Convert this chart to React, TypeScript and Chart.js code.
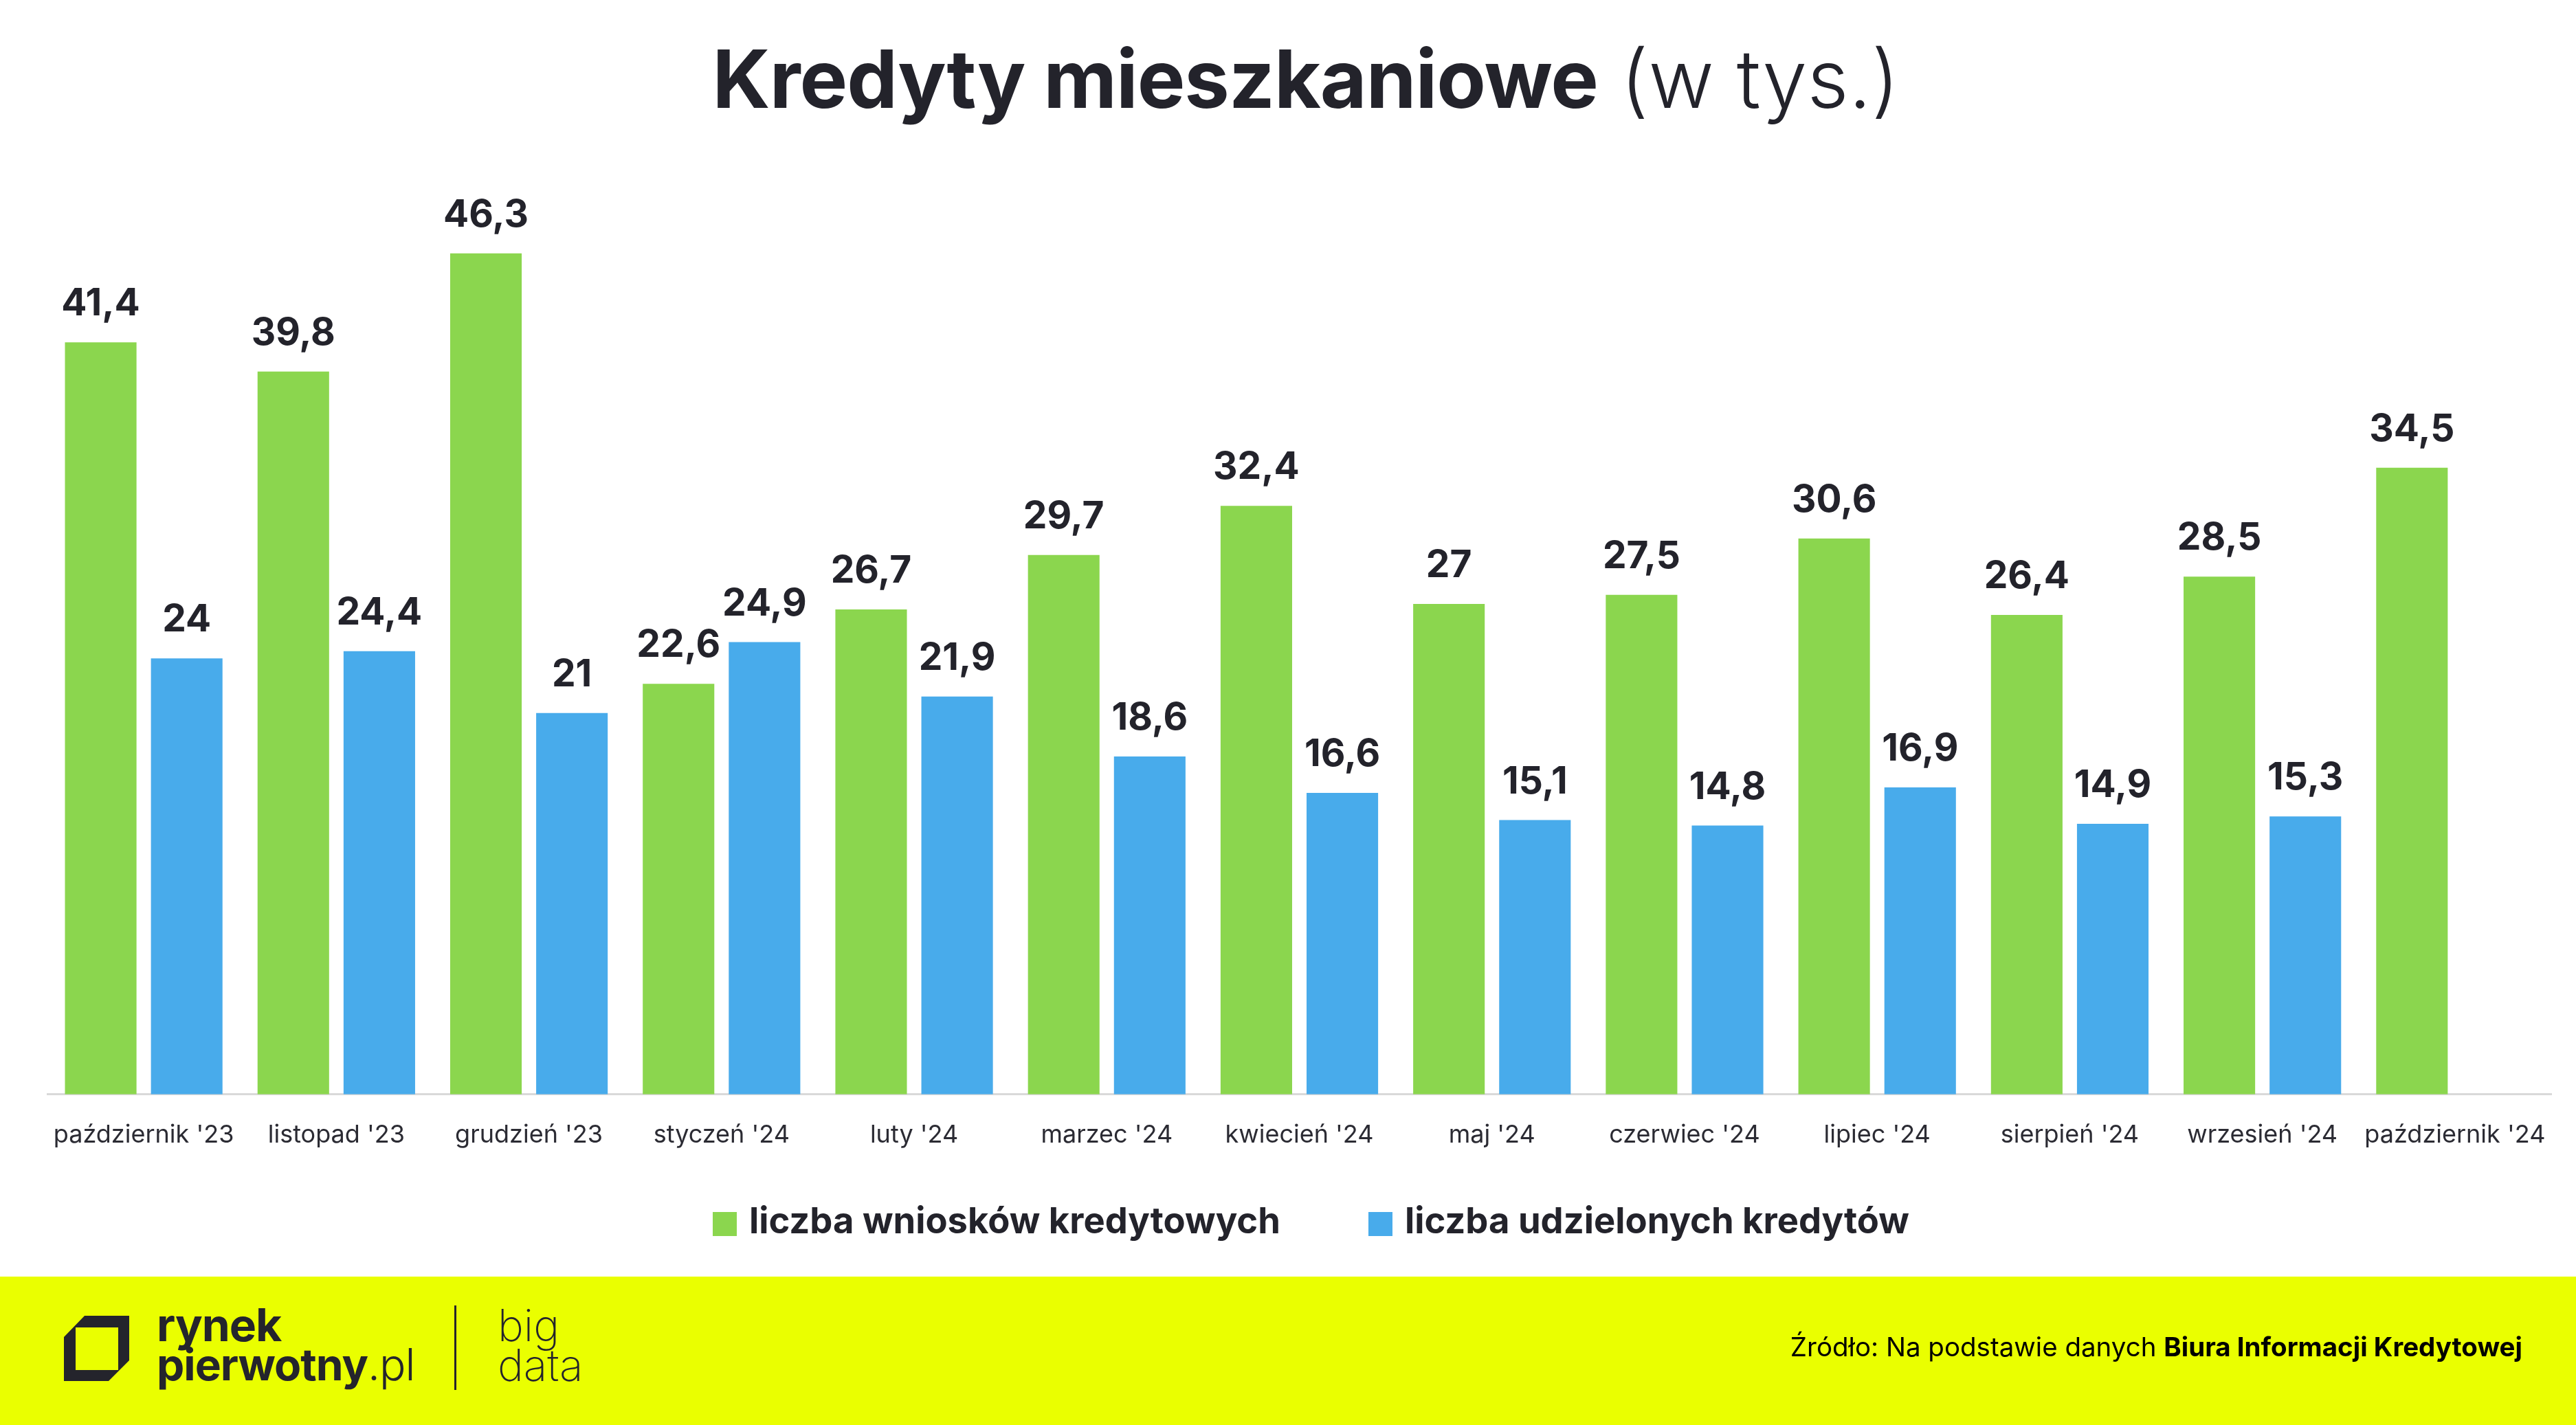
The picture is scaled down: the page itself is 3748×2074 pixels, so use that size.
import React, { useEffect, useRef } from "react";
import { Chart, registerables } from "chart.js";

Chart.register(...registerables);

const categories = [
  "październik '23",
  "listopad '23",
  "grudzień '23",
  "styczeń '24",
  "luty '24",
  "marzec '24",
  "kwiecień '24",
  "maj '24",
  "czerwiec '24",
  "lipiec '24",
  "sierpień '24",
  "wrzesień '24",
  "październik '24",
];
const wnioski = [41.4, 39.8, 46.3, 22.6, 26.7, 29.7, 32.4, 27, 27.5, 30.6, 26.4, 28.5, 34.5];
const udzielone = [24, 24.4, 21, 24.9, 21.9, 18.6, 16.6, 15.1, 14.8, 16.9, 14.9, 15.3, null];
const seriesNames = ["liczba wniosków kredytowych", "liczba udzielonych kredytów"];
const seriesColors = ["#8bd64e", "#48abeb"];
const yMin = 0;
const yMax = 50;

const FONT = "Inter, 'Open Sans', Roboto, sans-serif";
const DARK = "#23232b";

const fmt = (v: number) => v.toLocaleString("pl-PL", { maximumFractionDigits: 1 });

const valueLabels = {
  id: "valueLabels",
  afterDatasetsDraw(chart: any) {
    const ctx = chart.ctx;
    ctx.save();
    ctx.font = `700 55px ${FONT}`;
    ctx.fillStyle = DARK;
    ctx.textAlign = "center";
    ctx.textBaseline = "alphabetic";
    chart.data.datasets.forEach((ds: any, di: number) => {
      const meta = chart.getDatasetMeta(di);
      meta.data.forEach((bar: any, i: number) => {
        const v = ds.data[i];
        if (v === null || v === undefined) return;
        ctx.fillText(fmt(v), bar.x, bar.y - 39);
      });
    });
    ctx.restore();
  },
};

function Txt(props: {
  x?: number;
  right?: number;
  baseline: number;
  size: number;
  weight?: number;
  color?: string;
  children: any;
  spacing?: number;
}) {
  const { x, right, baseline, size, weight = 400, color = DARK, children, spacing = 0 } = props;
  const style: any = {
    position: "absolute",
    top: baseline - 0.864 * size,
    fontFamily: FONT,
    fontSize: size,
    lineHeight: `${size}px`,
    fontWeight: weight,
    color,
    whiteSpace: "nowrap",
    letterSpacing: spacing,
  };
  if (x !== undefined) style.left = x;
  if (right !== undefined) style.right = right;
  return <div style={style}>{children}</div>;
}

export default function App() {
  const canvasRef = useRef<HTMLCanvasElement | null>(null);

  useEffect(() => {
    const canvas = canvasRef.current;
    if (!canvas) return;
    const chart = new Chart(canvas, {
      type: "bar",
      data: {
        labels: categories,
        datasets: [
          {
            label: seriesNames[0],
            data: wnioski,
            backgroundColor: seriesColors[0],
            borderWidth: 0,
            categoryPercentage: 0.893,
            barPercentage: 0.832,
          },
          {
            label: seriesNames[1],
            data: udzielone,
            backgroundColor: seriesColors[1],
            borderWidth: 0,
            categoryPercentage: 0.893,
            barPercentage: 0.832,
          },
        ],
      },
      options: {
        animation: false,
        responsive: false,
        devicePixelRatio: 1,
        layout: { padding: { left: 69, right: 36, top: 271, bottom: 8 } },
        plugins: {
          legend: { display: false },
          title: { display: false },
          tooltip: { enabled: false },
        },
        scales: {
          x: {
            grid: { display: false, drawTicks: false },
            border: { display: true, color: "#d9d9d9", width: 3 },
            ticks: {
              color: "#2b2b33",
              font: { family: FONT, size: 36, weight: 400 },
              padding: 38,
              maxRotation: 0,
              autoSkip: false,
            },
          },
          y: {
            display: false,
            min: yMin,
            max: yMax,
          },
        },
      },
      plugins: [valueLabels],
    });
    return () => chart.destroy();
  }, []);

  return (
    <div
      style={{
        position: "fixed",
        left: 0,
        top: 0,
        width: 3748,
        height: 2074,
        overflow: "hidden",
        background: "#ffffff",
      }}
    >
      <canvas
        ref={canvasRef}
        width={3748}
        height={1720}
        style={{ position: "absolute", left: 0, top: 0, width: 3748, height: 1720 }}
      />

      {/* Title */}
      <div
        style={{
          position: "absolute",
          left: 0,
          width: 3800,
          top: 157 - 0.864 * 117,
          textAlign: "center",
          fontFamily: FONT,
          fontSize: 117,
          lineHeight: "117px",
          color: DARK,
          whiteSpace: "nowrap",
        }}
      >
        <span style={{ fontWeight: 700, letterSpacing: -1 }}>Kredyty mieszkaniowe</span>
        <span style={{ fontWeight: 300 }}> (w tys.)</span>
      </div>

      {/* Legend */}
      <div style={{ position: "absolute", left: 1037, top: 1764, width: 35, height: 35, background: seriesColors[0] }} />
      <Txt x={1090} baseline={1795} size={52.5} weight={700}>
        {seriesNames[0]}
      </Txt>
      <div style={{ position: "absolute", left: 1991, top: 1764, width: 35, height: 35, background: seriesColors[1] }} />
      <Txt x={2044} baseline={1795} size={52.5} weight={700}>
        {seriesNames[1]}
      </Txt>

      {/* Footer */}
      <div style={{ position: "absolute", left: 0, top: 1858, width: 3748, height: 216, background: "#eaff00" }} />
      <svg
        width={3748}
        height={2074}
        style={{ position: "absolute", left: 0, top: 0 }}
      >
        <path
          d="M123 1915 L188 1915 L188 1980 L158 2010 L93 2010 L93 1946 Z M110 1932 L110 1994 L172 1994 L172 1932 Z"
          fill="#24242c"
          fillRule="evenodd"
        />
        <rect x={661} y={1900} width={3} height={123} fill="#24242c" />
      </svg>
      <Txt x={228} baseline={1952} size={66} weight={700} color="#24242c" spacing={-1}>
        rynek
      </Txt>
      <Txt x={228} baseline={2009} size={64} weight={700} color="#24242c" spacing={-1}>
        pierwotny<span style={{ fontWeight: 300 }}>.pl</span>
      </Txt>
      <Txt x={724} baseline={1952} size={64} weight={200} color="#24242c">
        big
      </Txt>
      <Txt x={724} baseline={2010} size={64} weight={200} color="#24242c">
        data
      </Txt>
      <Txt right={78} baseline={1974} size={38.5} weight={400} color="#000000">
        Źródło: Na podstawie danych <span style={{ fontWeight: 700 }}>Biura Informacji Kredytowej</span>
      </Txt>
    </div>
  );
}
